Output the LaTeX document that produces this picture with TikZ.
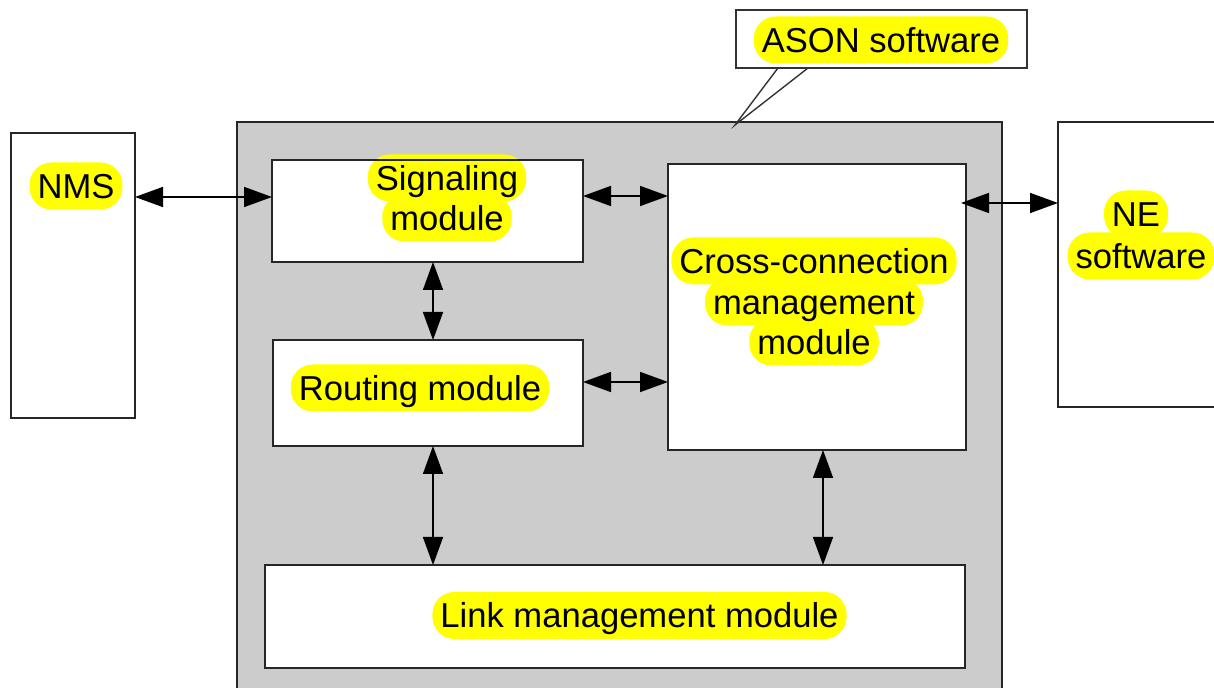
\documentclass[tikz,border=0pt]{standalone}
\usepackage{fontspec}
\setmainfont{Liberation Sans}
\usetikzlibrary{arrows.meta}
\definecolor{panelgray}{HTML}{CCCCCC}
\definecolor{hlyellow}{HTML}{FFFF00}
\begin{document}
\begin{tikzpicture}[x=0.5pt,y=-0.5pt,
  box/.style={draw=black!85, line width=0.9pt, fill=white, inner sep=0pt, outer sep=0pt},
  lbl/.style={inner xsep=4pt, inner ysep=0pt, minimum height=23.5pt, text height=12.4pt, text depth=0pt, font=\fontsize{17.3}{20}\selectfont},
  hl/.style={lbl, fill=hlyellow, rounded corners=11pt, text opacity=0},
  dbl/.style={line width=0.8pt, {Triangle[length=14pt,width=10pt]}-{Triangle[length=14pt,width=10pt]}},
  callline/.style={draw=black!80, line width=0.7pt}]
\useasboundingbox (0,0) rectangle (1214,688);
% boxes
\node[box, fill=panelgray, minimum width=382.5pt, minimum height=299pt] (panel) at (619.5,421) {};
\node[box, minimum width=62pt, minimum height=142.5pt] (nms) at (73,275.5) {};
\node[box, minimum width=91pt, minimum height=142.5pt] (ne) at (1149,264.5) {};
\node[box, minimum width=155.5pt, minimum height=51pt] (sig) at (427.5,211) {};
\node[box, minimum width=149pt, minimum height=143pt] (cross) at (817,307) {};
\node[box, minimum width=155pt, minimum height=53pt] (rout) at (428,393) {};
\node[box, minimum width=350pt, minimum height=51.5pt] (link) at (615,616.5) {};
% callout
\node[callline, fill=white, inner sep=0pt, outer sep=0pt, minimum width=145.5pt, minimum height=29pt] (callout) at (881.5,39) {};
\coordinate (c1) at (778,68);
\coordinate (c2) at (808,68);
\coordinate (tip) at (735,125);
\draw[callline] (c1) -- (tip) -- (c2);
% label highlights
\node[hl] (bason) at (881,40) {ASON software};
\node[hl] (bnms) at (76,186) {NMS};
\node[hl] (bsig1) at (447,178) {Signaling};
\node[hl] (bsig2) at (447,218) {module};
\node[hl] (bcc1) at (814,261) {Cross-connection};
\node[hl] (bcc2) at (814,302) {management};
\node[hl] (bcc3) at (814,342) {module};
\node[hl] (brout) at (420,388) {Routing module};
\node[hl] (blink) at (639.5,615.5) {Link management module};
\node[hl] (bne1) at (1136,214) {NE};
\node[hl] (bne2) at (1141,256) {software};
\draw[draw=black!85, line width=0.9pt] (sig.north west) -- (sig.north east);
% label texts
\node[lbl] (tason) at (bason) {ASON software};
\node[lbl] (tnms) at (bnms) {NMS};
\node[lbl] (tsig1) at (bsig1) {Signaling};
\node[lbl] (tsig2) at (bsig2) {module};
\node[lbl] (tcc1) at (bcc1) {Cross-connection};
\node[lbl] (tcc2) at (bcc2) {management};
\node[lbl] (tcc3) at (bcc3) {module};
\node[lbl] (trout) at (brout) {Routing module};
\node[lbl] (tlink) at (blink) {Link management module};
\node[lbl] (tne1) at (bne1) {NE};
\node[lbl] (tne2) at (bne2) {software};
% connectors
\coordinate (y1) at (0,197);
\coordinate (y2) at (0,196);
\coordinate (y3) at (0,382);
\coordinate (x4) at (433,0);
\coordinate (x6) at (823,0);
\coordinate (y7) at (0,203);
\draw[dbl] (nms.east |- y1) -- (sig.west |- y1);
\draw[dbl] (sig.east |- y2) -- (cross.west |- y2);
\draw[dbl] (rout.east |- y3) -- (cross.west |- y3);
\draw[dbl] (sig.south -| x4) -- (rout.north -| x4);
\draw[dbl] (rout.south -| x4) -- (link.north -| x4);
\draw[dbl] (cross.south -| x6) -- (link.north -| x6);
\draw[dbl] ([xshift=-2.5pt]cross.east |- y7) -- (ne.west |- y7);
\end{tikzpicture}
\end{document}
